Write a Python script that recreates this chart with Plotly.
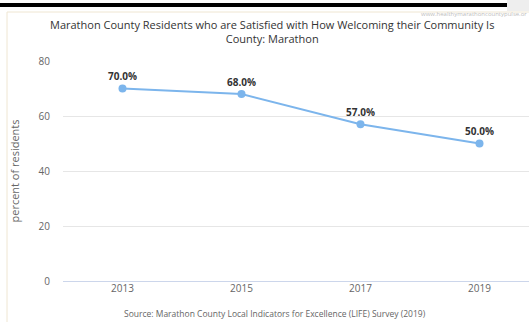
import plotly.graph_objects as go

years = [2013, 2015, 2017, 2019]
pct_satisfied = [70.0, 68.0, 57.0, 50.0]
y_ticks = [0, 20, 40, 60, 80]
x_ticks = [2013, 2015, 2017, 2019]

W, H = 529, 322
L, R, T, B = 63, 0, 61, 41
PW, PH = W - L - R, H - T - B


def px(x):
    return (x - L) / PW


def py(y):
    return (H - B - y) / PH


fig = go.Figure()
fig.add_trace(go.Scatter(
    x=years, y=pct_satisfied, mode="lines+markers+text",
    line=dict(color="#7cb5ec", width=2),
    marker=dict(color="#7cb5ec", size=8),
    text=[f"<b>{v:.1f}%</b>" for v in pct_satisfied],
    textposition="top center",
    textfont=dict(family="Open Sans, sans-serif", size=10, color="#333333"),
    cliponaxis=False, hoverinfo="skip", showlegend=False,
))

fig.update_xaxes(
    range=[2012, 2012 + PW / 59.5], tickvals=x_ticks, ticktext=[str(v) for v in x_ticks],
    showgrid=False, zeroline=False, showline=False, ticks="",
    tickfont=dict(family="Open Sans, sans-serif", size=10, color="#666666"),
)
fig.update_yaxes(
    range=[0, 80], tickvals=y_ticks, showgrid=True, gridcolor="#e6e6e6", gridwidth=1,
    zeroline=True, zerolinecolor="#ccd6eb", zerolinewidth=1, ticks="",
    ticklabelstandoff=12,
    tickfont=dict(family="Open Sans, sans-serif", size=10, color="#666666"),
    title=dict(text="percent of residents", standoff=16,
               font=dict(family="Open Sans, sans-serif", size=11, color="#666666")),
)

shapes = [
    # dark rule across the top
    dict(type="rect", xref="paper", yref="paper", x0=px(0), x1=px(507), y0=py(7), y1=py(3),
         fillcolor="#000000", line_width=0, layer="above"),
    # grey tab at top right
    dict(type="rect", xref="paper", yref="paper", x0=px(507), x1=px(529), y0=py(11), y1=py(0),
         fillcolor="#eeeeee", line_width=0, layer="below"),
    # panel border
    dict(type="line", xref="paper", yref="paper", x0=px(7), x1=px(529), y0=py(12), y1=py(12),
         line=dict(color="#efe6d2", width=1)),
    dict(type="line", xref="paper", yref="paper", x0=px(7), x1=px(7), y0=py(12), y1=py(322),
         line=dict(color="#efe6d2", width=1)),
]

annotations = [
    dict(text="Marathon County Residents who are Satisfied with How Welcoming their Community Is"
              "<br>County: Marathon",
         x=px(272), y=py(32), xref="paper", yref="paper", showarrow=False,
         xanchor="center", yanchor="middle", align="center",
         font=dict(family="Open Sans, sans-serif", size=11, color="#333333")),
    dict(text="www.healthymarathoncountypulse.or",
         x=px(529), y=py(14.5), xref="paper", yref="paper", showarrow=False,
         xanchor="right", yanchor="middle",
         font=dict(family="Open Sans, sans-serif", size=6, color="#bdbdbd")),
    dict(text="Source: Marathon County Local Indicators for Excellence (LIFE) Survey (2019)",
         x=px(275), y=py(313), xref="paper", yref="paper", showarrow=False,
         xanchor="center", yanchor="middle",
         font=dict(family="Open Sans, sans-serif", size=8.5, color="#666666")),
]

fig.update_layout(
    width=W, height=H, margin=dict(l=L, r=R, t=T, b=B),
    paper_bgcolor="#ffffff", plot_bgcolor="#ffffff",
    shapes=shapes, annotations=annotations,
)

fig.write_html("out.html")
